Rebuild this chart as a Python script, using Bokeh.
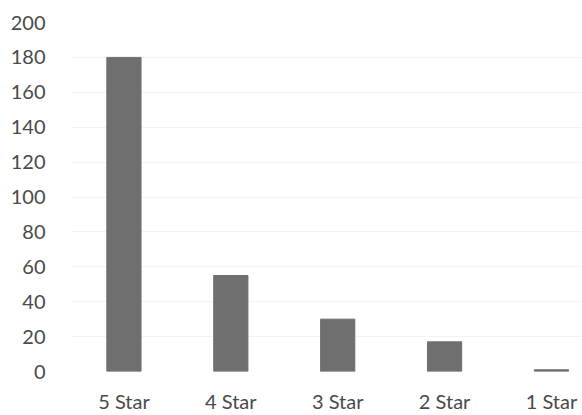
from bokeh.plotting import figure
from bokeh.models import Range1d, FixedTicker
from bokeh.embed import file_html
from bokeh.resources import INLINE

categories = ["5 Star", "4 Star", "3 Star", "2 Star", "1 Star"]
counts = [180, 55, 30, 17, 1]
y_ticks = [0, 20, 40, 60, 80, 100, 120, 140, 160, 180, 200]

xs = [i + 0.5 for i in range(len(categories))]

p = figure(width=582, height=415, output_backend="svg", toolbar_location=None,
           x_range=Range1d(0, 4.79), y_range=Range1d(0, 200),
           min_border_left=70, min_border_right=0, min_border_top=22, min_border_bottom=43)
p.outline_line_color = None
p.background_fill_color = "white"
p.border_fill_color = "white"

p.vbar(x=xs, top=counts, width=0.32, bottom=0, fill_color="#6f6f6f", line_color="#6f6f6f", line_width=1)

font = "Lato"
p.yaxis.ticker = FixedTicker(ticks=y_ticks)
p.yaxis.axis_line_color = None
p.yaxis.major_tick_line_color = None
p.yaxis.minor_tick_line_color = None
p.yaxis.major_tick_out = 0
p.yaxis.major_label_standoff = 25
p.yaxis.major_label_text_font = font
p.yaxis.major_label_text_font_size = "20px"
p.yaxis.major_label_text_color = "#4a4a4a"

p.xaxis.ticker = FixedTicker(ticks=xs)
p.xaxis.major_label_overrides = {x: c for x, c in zip(xs, categories)}
p.xaxis.axis_line_color = None
p.xaxis.major_tick_line_color = None
p.xaxis.minor_tick_line_color = None
p.xaxis.major_tick_out = 0
p.xaxis.major_label_standoff = 17
p.xaxis.major_label_text_font = font
p.xaxis.major_label_text_font_size = "20px"
p.xaxis.major_label_text_color = "#4a4a4a"

p.xgrid.grid_line_color = None
p.ygrid.grid_line_color = "#f3f3f3"
p.ygrid.ticker = FixedTicker(ticks=y_ticks)

open("out.html", "w").write(file_html(p, INLINE))
